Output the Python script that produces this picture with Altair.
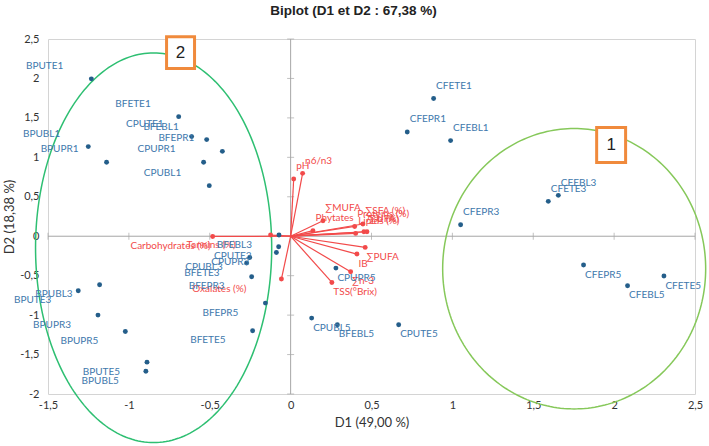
import altair as alt
import pandas as pd
import numpy as np

# ---------------- data ----------------
obs_names = ["BPUTE1", "BFETE1", "CPUTE1", "BFEBL1", "BFEPR1", "BPUBL1", "BPUPR1", "CPUPR1", "CPUBL1",
             "BPUTE3", "BPUBL3", "BPUPR3", "BPUPR5", "BPUTE5", "BPUBL5",
             "BFEBL3", "CPUTE3", "CPUPR3", "CPUBL3", "BFETE3", "BFEPR3", "BFEPR5", "BFETE5",
             "CPUBL5", "BFEBL5", "CPUTE5", "CPUPR5",
             "CFETE1", "CFEPR1", "CFEBL1", "CFEPR3", "CFETE3", "CFEBL3",
             "CFEPR5", "CFEBL5", "CFETE5"]
obs_d1 = [-1.232, -0.692, -0.612, -0.519, -0.422, -1.251, -1.138, -0.538, -0.503,
          -1.313, -1.181, -1.191, -1.022, -0.888, -0.895,
          -0.072, -0.074, -0.088, -0.253, -0.272, -0.241, -0.156, -0.235,
          0.130, 0.289, 0.668, 0.280,
          0.884, 0.721, 0.989, 1.051, 1.593, 1.655,
          1.811, 2.083, 2.308]
obs_d2 = [1.995, 1.516, 1.263, 1.225, 1.076, 1.136, 0.937, 0.937, 0.641,
          -0.692, -0.615, -1.000, -1.208, -1.596, -1.711,
          0.015, -0.133, -0.206, -0.269, -0.340, -0.514, -0.848, -1.199,
          -1.038, -1.123, -1.123, -0.404,
          1.745, 1.322, 1.212, 0.146, 0.442, 0.518,
          -0.365, -0.628, -0.505]
obs_side = ["ul"] * 9 + ["ll"] * 6 + ["ll"] * 8 + ["lr"] * 4 + ["ur"] * 6 + ["lr"] * 3

var_names = ["pH", "n6/n3", "∑MUFA", "Phytates", "Proteins (%)", "∑SFA (%)", "Lipids (%)",
             "Ash (%)", "∑UFA", "∑PUFA", "IB", "∑n-3", "TSS(°Brix)", "Oxalates (%)",
             "Carbohydrates (%)", "Tannins (%)"]
var_d1 = [0.019, 0.074, 0.200, 0.138, 0.396, 0.447, 0.402, 0.453, 0.472,
          0.461, 0.410, 0.371, 0.255, -0.057, -0.482, -0.124]
var_d2 = [0.726, 0.797, 0.197, 0.070, 0.124, 0.155, 0.036, 0.057, 0.057,
          -0.142, -0.226, -0.450, -0.586, -0.543, -0.003, 0.015]
var_side = ["ur"] * 9 + ["lr"] * 4 + ["lf", "l", "lf"]

x_ticks = [-1.5, -1.0, -0.5, 0.0, 0.5, 1.0, 1.5, 2.0, 2.5]
y_ticks = [-2.0, -1.5, -1.0, -0.5, 0.0, 0.5, 1.0, 1.5, 2.0, 2.5]

# annotation groups (ellipses: centre d1, centre d2, semi-axis d1, semi-axis d2)
groups = ["2", "1"]
grp_cx = [-0.847, 1.753]
grp_cy = [-0.146, -0.412]
grp_ax = [0.730, 0.813]
grp_ay = [2.470, 1.777]
grp_color = ["#2EBF72", "#86C85A"]
# orange number boxes (d1 min, d1 max, d2 min, d2 max)
box_x1 = [-0.767, 1.892]
box_x2 = [-0.594, 2.071]
box_y1 = [2.125, 0.933]
box_y2 = [2.530, 1.377]

# ---------------- styling ----------------
BLUE_PT = "#245E8A"
BLUE_TX = "#3E78AC"
RED = "#F24A4A"
FONT = "Lato"

xs = alt.Scale(domain=[-1.5, 2.5], nice=False, zero=False)
ys = alt.Scale(domain=[-2.0, 2.5], nice=False, zero=False)
expr = "replace(toString(datum.value), '.', ',')"
ax_x = alt.Axis(values=x_ticks, labelExpr=expr, title="D1 (49,00 %)", grid=False, domain=False,
                ticks=False, labelPadding=5, titlePadding=6, labelFont=FONT, labelFontSize=11,
                labelColor="#333333", titleFont=FONT, titleFontSize=13, titleFontWeight="normal",
                titleColor="#333333", labelFlush=False, labelOverlap=False)
ax_y = alt.Axis(values=y_ticks, labelExpr=expr, title="D2 (18,38 %)", grid=False, domain=False,
                ticks=False, labelPadding=9, titlePadding=3, labelFont=FONT, labelFontSize=11,
                labelColor="#333333", titleFont=FONT, titleFontSize=13, titleFontWeight="normal",
                titleColor="#333333", labelFlush=False, labelOverlap=False)


def X(f):
    return alt.X(f, type="quantitative", scale=xs, axis=ax_x)


def Y(f):
    return alt.Y(f, type="quantitative", scale=ys, axis=ax_y)


obs = pd.DataFrame({"name": obs_names, "d1": obs_d1, "d2": obs_d2, "side": obs_side})
var = pd.DataFrame({"name": var_names, "d1": var_d1, "d2": var_d2, "side": var_side, "o": 0.0})

# axis lines through the origin with their tick marks
xt = pd.DataFrame({"v": x_ticks, "o": 0.0})
yt = pd.DataFrame({"v": y_ticks, "o": 0.0})
axline_v = alt.Chart(pd.DataFrame({"o": [0.0], "lo": [y_ticks[0]], "hi": [y_ticks[-1]]})).mark_rule(
    color="#A6A6A6", strokeWidth=1).encode(x=X("o"), y=Y("lo"), y2="hi")
axline_h = alt.Chart(pd.DataFrame({"o": [0.0], "lo": [x_ticks[0]], "hi": [x_ticks[-1]]})).mark_rule(
    color="#A6A6A6", strokeWidth=1).encode(y=Y("o"), x=X("lo"), x2="hi")
ticks_v = alt.Chart(yt).mark_tick(orient="horizontal", size=7, thickness=1, color="#A6A6A6").encode(
    x=X("o"), y=Y("v"))
ticks_h = alt.Chart(xt).mark_tick(orient="vertical", size=7, thickness=1, color="#A6A6A6").encode(
    x=X("v"), y=Y("o"))

# ellipses
ell_layers = []
theta = np.linspace(0, 2 * np.pi, 241)
for g, cx, cy, a, b, c in zip(groups, grp_cx, grp_cy, grp_ax, grp_ay, grp_color):
    edf = pd.DataFrame({"i": np.arange(len(theta)), "x": cx + a * np.cos(theta), "y": cy + b * np.sin(theta)})
    ell_layers.append(alt.Chart(edf).mark_line(color=c, strokeWidth=1.5, clip=False).encode(
        x=X("x"), y=Y("y"), order="i:Q"))

# vectors
vec = alt.Chart(var).mark_rule(color=RED, strokeWidth=1.2).encode(x=X("o"), y=Y("o"), x2="d1", y2="d2")
vec_pts = alt.Chart(var).mark_circle(color=RED, size=24, opacity=1).encode(x=X("d1"), y=Y("d2"))
pts = alt.Chart(obs).mark_circle(color=BLUE_PT, size=24, opacity=1).encode(x=X("d1"), y=Y("d2"))

offsets = {"ul": (-28, -13, "right"), "ll": (-27, 9.5, "right"), "ur": (2.5, -12.5, "left"),
           "lr": (1.5, 9.5, "left"), "lf": (-35, 9.5, "right"), "l": (-2, 9.5, "right")}


def labels(df, color):
    out = []
    for side in sorted(set(df["side"])):
        dx, dy, al = offsets[side]
        out.append(alt.Chart(df[df["side"] == side]).mark_text(
            align=al, baseline="middle", dx=dx, dy=dy, font=FONT, fontSize=10, color=color).encode(
            x=X("d1"), y=Y("d2"), text="name:N"))
    return out


boxes_df = pd.DataFrame({"g": groups, "x1": box_x1, "x2": box_x2, "y1": box_y1, "y2": box_y2,
                         "xc": [(p + q) / 2 for p, q in zip(box_x1, box_x2)],
                         "yc": [(p + q) / 2 for p, q in zip(box_y1, box_y2)]})
boxes = alt.Chart(boxes_df).mark_rect(fill="white", stroke="#F08A3C", strokeWidth=3, clip=False).encode(
    x=X("x1"), x2="x2", y=Y("y1"), y2="y2")
box_txt = alt.Chart(boxes_df).mark_text(font="Liberation Sans", fontSize=17, color="#222222").encode(
    x=X("xc"), y=Y("yc"), text="g:N")

chart = alt.layer(
    axline_v, axline_h, ticks_v, ticks_h,
    *ell_layers,
    vec, vec_pts, pts,
    *labels(var, RED), *labels(obs, BLUE_TX),
    boxes, box_txt,
).properties(
    width=647, height=355,
    title=alt.TitleParams("Biplot (D1 et D2 : 67,38 %)", font="Liberation Sans", fontSize=13.5,
                          fontWeight="bold", color="#222222", anchor="middle", offset=16, dx=-18),
    autosize=alt.AutoSizeParams(type="none"),
    padding={"left": 48, "top": 39, "right": 14, "bottom": 52},
).configure_view(stroke="#D4D4D4")

chart.save("out.html", embed_options={"renderer": "svg", "actions": False})
